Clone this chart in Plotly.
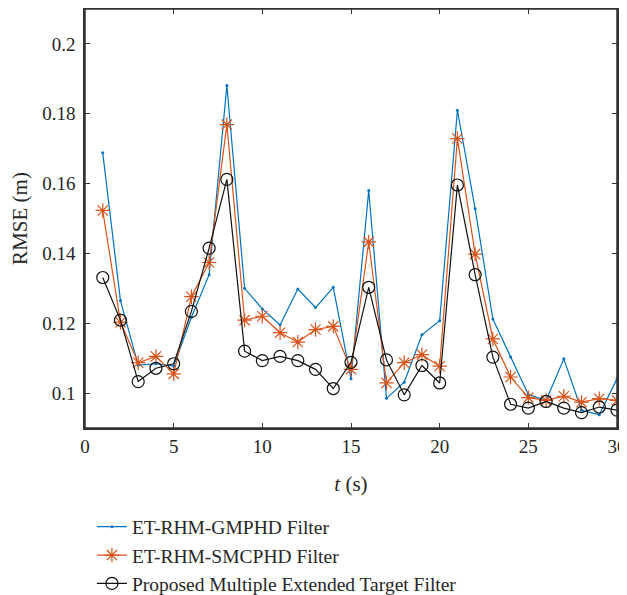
import plotly.graph_objects as go

t = list(range(1, 31))

gmphd = [0.1688, 0.1265, 0.1080, 0.1084, 0.1077, 0.1217, 0.1339, 0.1881, 0.1300, 0.1241,
         0.1195, 0.1298, 0.1245, 0.1303, 0.1041, 0.1580, 0.0985, 0.1031, 0.1167, 0.1207,
         0.1810, 0.1528, 0.1212, 0.1103, 0.0996, 0.0979, 0.1098, 0.0951, 0.0938, 0.1041]

smcphd = [0.1523, 0.1203, 0.1087, 0.1105, 0.1055, 0.1276, 0.1374, 0.1769, 0.1209, 0.1220,
          0.1173, 0.1146, 0.1182, 0.1191, 0.1068, 0.1433, 0.1029, 0.1087, 0.1110, 0.1077,
          0.1729, 0.1398, 0.1155, 0.1046, 0.0987, 0.0979, 0.0991, 0.0974, 0.0984, 0.0979]

proposed = [0.1331, 0.1209, 0.1033, 0.1071, 0.1084, 0.1234, 0.1415, 0.1612, 0.1120, 0.1093,
            0.1105, 0.1093, 0.1068, 0.1013, 0.1088, 0.1303, 0.1095, 0.0995, 0.1079, 0.1029,
            0.1596, 0.1339, 0.1103, 0.0968, 0.0957, 0.0976, 0.0957, 0.0944, 0.0960, 0.0951]

names = ["ET-RHM-GMPHD Filter", "ET-RHM-SMCPHD Filter", "Proposed Multiple Extended Target Filter"]

x_ticks = [0, 5, 10, 15, 20, 25, 30]
y_ticks = [0.1, 0.12, 0.14, 0.16, 0.18, 0.2]
y_ticklabels = ["0.1", "0.12", "0.14", "0.16", "0.18", "0.2"]

FONT = "Liberation Serif"
TXT = "#262626"
AX = "#333333"

fig = go.Figure()
fig.add_trace(go.Scatter(x=t, y=gmphd, name=names[0], mode="lines+markers",
                         line=dict(color="#0072BD", width=1.2),
                         marker=dict(symbol="circle", size=3, color="#0072BD")))
fig.add_trace(go.Scatter(x=t, y=smcphd, name=names[1], mode="lines+markers",
                         line=dict(color="#D95319", width=1.2),
                         marker=dict(symbol="asterisk-open", size=12,
                                     line=dict(color="#D95319", width=1.2))))
fig.add_trace(go.Scatter(x=t, y=proposed, name=names[2], mode="lines+markers",
                         line=dict(color="#111111", width=1.2),
                         marker=dict(symbol="circle-open", size=12, color="#111111",
                                     line=dict(color="#111111", width=1.2))))

axis_common = dict(showline=True, linecolor=AX, linewidth=1.5, mirror="ticks",
                   ticks="inside", ticklen=5, tickcolor=AX, showgrid=False,
                   zeroline=False, automargin=False,
                   tickfont=dict(family=FONT, size=19, color=TXT))

fig.update_layout(
    width=619, height=587,
    margin=dict(l=77, r=10, t=1, b=167),
    paper_bgcolor="white", plot_bgcolor="white",
    font=dict(family=FONT, size=19, color=TXT),
    xaxis=dict(range=[0, 30], tickvals=x_ticks, ticklabelstandoff=0,
               title=dict(text="<i>t</i> (s)", font=dict(family=FONT, size=21, color=TXT), standoff=21),
               **axis_common),
    yaxis=dict(range=[0.09, 0.21], tickvals=y_ticks, ticktext=y_ticklabels, ticklabelstandoff=4,
               title=dict(text="RMSE (m)", font=dict(family=FONT, size=21, color=TXT), standoff=24),
               **axis_common),
    legend=dict(x=0.013, xanchor="left", yref="container", y=0.149, yanchor="top",
                font=dict(family=FONT, size=19.5, color=TXT),
                bgcolor="rgba(0,0,0,0)", tracegroupgap=0, itemwidth=30),
    showlegend=True,
)

# box around the plot area
fig.add_shape(type="rect", xref="paper", yref="paper", x0=0, y0=0, x1=1, y1=1,
              line=dict(color=AX, width=1.5), layer="above")

fig.write_html("out.html")
